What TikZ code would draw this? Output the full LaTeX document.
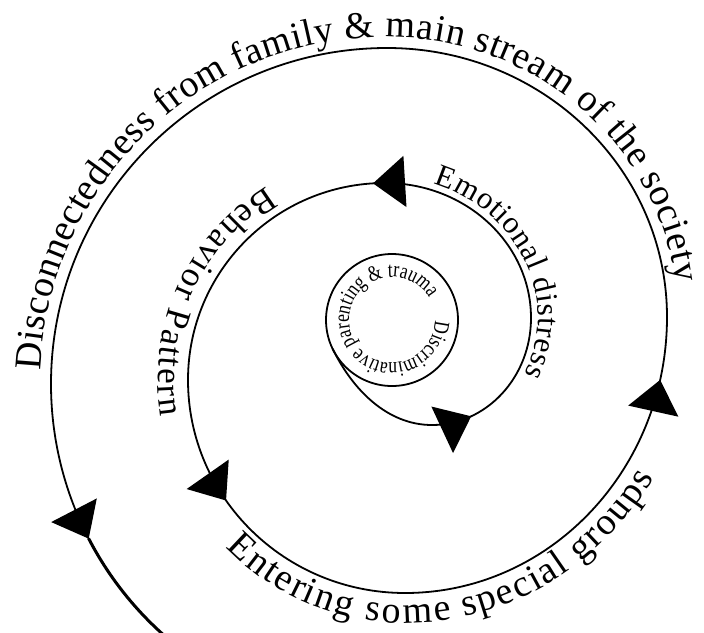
\documentclass[tikz,border=0pt]{standalone}
\usepackage{fontspec}
\setmainfont{Liberation Serif}
\newfontfamily\ringfont[FakeStretch=0.8]{Liberation Serif}
\usetikzlibrary{arrows.meta,decorations.markings,decorations.text,calc}
\begin{document}
\begin{tikzpicture}[x=1pt,y=1pt,
  spiral/.style={line width=1.8pt, line cap=round},
  tipat/.style={postaction={decorate,decoration={markings,
      mark=at position #1 with {\arrow{Triangle[length=32pt,width=51pt]}}}}},
  pathtext/.style n args={3}{decorate,decoration={text along path,
      text={|#1|#3},raise=#2,text align=left}}]
\path[use as bounding box,fill=white] (0,0) rectangle (704,-632);

% centre of the inner ring and the junctions of the spiral's arcs
\coordinate (ring) at (392,-320);
\coordinate (p0) at (332.7,-348.9);
\coordinate (p1) at (432,-425);
\coordinate (p2) at (531,-318);
\coordinate (p3) at (385,-183);
\coordinate (p4) at (188,-380);
\coordinate (p5) at (405,-593);
\coordinate (p6) at (667,-317);
\coordinate (p7) at (387,-48);
\coordinate (p8) at (51,-384);
\coordinate (p9) at (88.7,-538.6);

% inner ring
\draw[spiral] (ring) circle[radius=66pt];

% the spiral, unwinding counter-clockwise
\draw[spiral] (p0) .. controls +(296:45) and +(180:45) .. (p1);
\draw[spiral,tipat=0.25] (p1) arc[start angle=270,end angle=360,x radius=99pt,y radius=107pt];
\draw[spiral] (p2) arc[start angle=0,end angle=90,x radius=146pt,y radius=135pt];
\draw[spiral,tipat=12pt] (p3) arc[start angle=90,end angle=180,radius=197pt];
\draw[spiral,tipat=0.38] (p4) arc[start angle=180,end angle=270,x radius=217pt,y radius=213pt];
\draw[spiral,tipat=0.85] (p5) arc[start angle=270,end angle=360,x radius=262pt,y radius=276pt];
\draw[spiral] (p6) arc[start angle=0,end angle=90,x radius=280pt,y radius=269pt];
\draw[spiral] (p7) arc[start angle=90,end angle=180,radius=336pt];
\draw[spiral,tipat=0.783] (p8) arc[start angle=180,end angle=215,radius=336pt];
\draw[line width=3pt] (p9) arc[start angle=207.4,end angle=235,radius=336pt];

% captions along the turns
\path[pathtext={\fontsize{38}{38}\selectfont}{11pt}{Disconnectedness from family {\&} main stream of the society}]
  (51.25,-371.1) arc[start angle=177.8,end angle=90,radius=336pt]
  arc[start angle=90,end angle=-20,x radius=280pt,y radius=269pt];
\path[pathtext={\fontsize{31}{31}\selectfont}{7pt}{Emotional distress}]
  (431.1,-189.9) arc[start angle=71.6,end angle=0,x radius=146pt,y radius=135pt]
  arc[start angle=360,end angle=290,x radius=99pt,y radius=107pt];
\path[pathtext={\fontsize{35}{35}\selectfont}{-30pt}{Behavior Pattern}]
  (283.5,-211.1) arc[start angle=121,end angle=180,radius=197pt]
  arc[start angle=180,end angle=240,x radius=217pt,y radius=213pt];
\path[pathtext={\fontsize{38}{38}\selectfont}{-30pt}{Entering some special groups}]
  (246.3,-525.3) arc[start angle=223,end angle=270,x radius=217pt,y radius=213pt]
  arc[start angle=270,end angle=360,x radius=262pt,y radius=276pt];
\path[pathtext={\ringfont\fontsize{22}{22}\selectfont}{0pt}{Discriminative parenting {\&} trauma}]
  (435,-320.75) arc[start angle=-1,end angle=-361,radius=43pt];
\end{tikzpicture}
\end{document}
